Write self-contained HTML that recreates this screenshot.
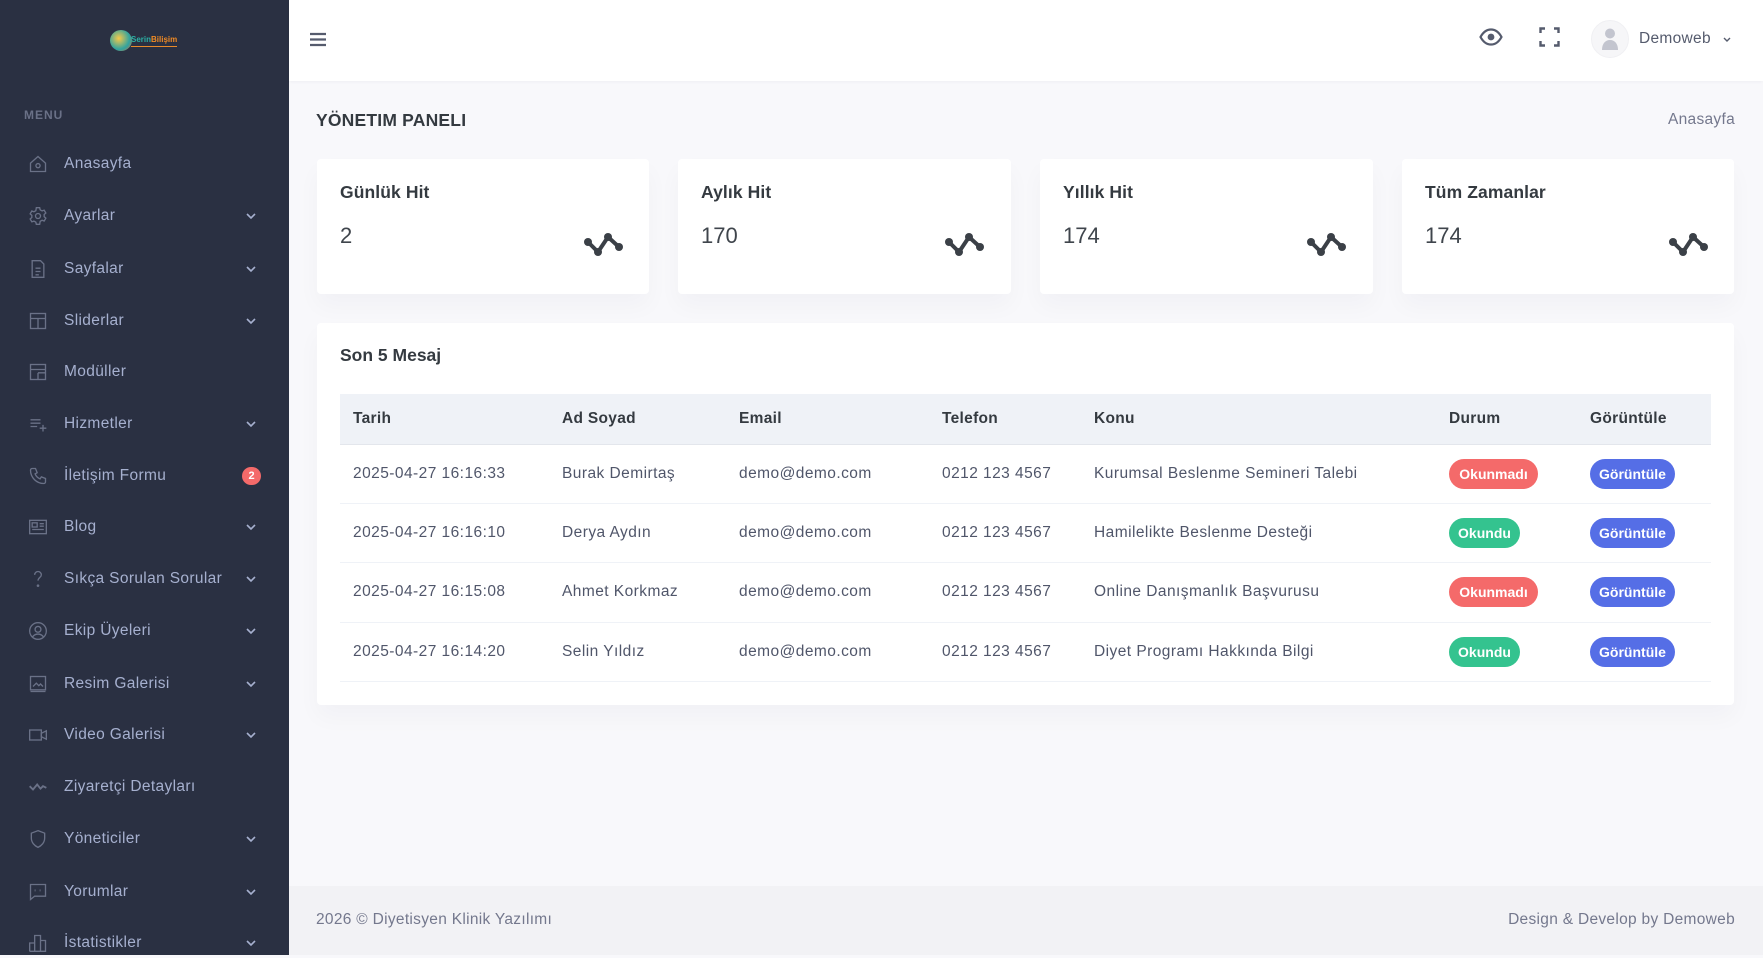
<!DOCTYPE html>
<html><head><meta charset="utf-8">
<style>
*{box-sizing:border-box;margin:0;padding:0}
html,body{width:1763px;height:955px;overflow:hidden;background:#f8f8fb;font-family:"Liberation Sans",Arial,sans-serif;color:#495057}
.sb{position:absolute;left:0;top:0;width:289px;height:955px;background:#2a3042}
.menu-t{position:absolute;left:24px;top:108px;font-size:12px;font-weight:700;color:#6a7187;letter-spacing:1px}
.mi{position:absolute;left:0;width:289px;height:30px;line-height:30px;font-size:15.5px;color:#a6b0cf;letter-spacing:.35px}
.mi svg.ic{position:absolute;left:28px;top:5px;width:20px;height:20px}
.mi span{position:absolute;left:64px;top:0}
.mi svg.ch{position:absolute;left:246px;top:12px;width:10px;height:7px}
.badge2{position:absolute;left:242px;top:6px;width:19px;height:18px;border-radius:9px;background:#f46a6a;color:#fff;font-size:11px;font-weight:700;line-height:18px;text-align:center;letter-spacing:0}
.hdr{position:absolute;left:289px;top:0;width:1474px;height:81px;background:#fff;box-shadow:0 1px 3px rgba(18,38,63,.04)}
.title{position:absolute;left:316px;top:110px;font-size:17.5px;font-weight:700;color:#343a40;letter-spacing:.2px}
.bc{position:absolute;right:28px;top:111px;font-size:15.5px;color:#74788d;letter-spacing:.3px}
.card{position:absolute;background:#fff;border-radius:4px;box-shadow:0 12px 24px rgba(18,38,63,.03)}
.ct{position:absolute;left:23px;top:23px;font-size:17.5px;font-weight:700;color:#343a40;letter-spacing:.1px}
.cv{position:absolute;left:23px;top:64px;font-size:22px;color:#3f454c}
.cicon{position:absolute;left:266px;top:74px;width:42px;height:24px}
.mt{position:absolute;left:23px;top:22px;font-size:17.5px;font-weight:700;color:#343a40}
table{position:absolute;left:23px;top:71px;width:1371px;border-collapse:collapse;table-layout:fixed;font-size:15.5px;letter-spacing:.45px}
th{background:#eff2f7;height:50.5px;text-align:left;padding-left:13px;font-weight:700;color:#343a40;border-bottom:1px solid #e3e6ec;letter-spacing:.3px}
td{height:59.4px;padding-left:13px;color:#50566a;border-bottom:1px solid #eff2f7;white-space:nowrap}
.pill{display:inline-block;height:30px;line-height:30px;border-radius:15px;color:#fff;font-size:14px;font-weight:700;text-align:center;letter-spacing:0}
.r{background:#f46a6a;width:89px}
.g{background:#34c38f;width:71px}
.b{background:#556ee6;width:85px}
.ftr{position:absolute;left:289px;top:886px;width:1474px;height:69px;background:#f2f2f5;font-size:15.5px;color:#74788d;letter-spacing:.3px}
</style></head><body>

<div class="sb">
  <div style="position:absolute;left:110px;top:30px;width:22px;height:21px;border-radius:50%;background:radial-gradient(circle at 40% 40%,#f7c948,#2fa3a0 60%,#e36b2c)"></div>
  <div style="position:absolute;left:131px;top:35px;font-size:8px;font-weight:700;letter-spacing:0"><span style="color:#2ab0a4">Serin</span><span style="color:#f08a24">Bilişim</span></div>
  <div style="position:absolute;left:131px;top:46px;width:46px;height:1px;background:#e88a2a"></div>
  <div class="menu-t">MENU</div>

  <div class="mi" style="top:149px"><svg class="ic" viewBox="0 0 24 24" fill="none" stroke="#6a7187" stroke-width="1.6"><path d="M3 11L12 3l9 8v10H3z"/><circle cx="12" cy="14" r="2.5"/></svg><span>Anasayfa</span></div>
  <div class="mi" style="top:201px"><svg class="ic" viewBox="0 0 24 24" fill="none" stroke="#6a7187" stroke-width="1.6"><circle cx="12" cy="12" r="3"/><path d="M10 2h4l.6 2.6 2.3 1.3 2.5-.9 2 3.4-2 1.8v2.6l2 1.8-2 3.4-2.5-.9-2.3 1.3L14 22h-4l-.6-2.6-2.3-1.3-2.5.9-2-3.4 2-1.8v-2.6l-2-1.8 2-3.4 2.5.9 2.3-1.3z"/></svg><span>Ayarlar</span><svg class="ch" viewBox="0 0 10 7"><path d="M1 1l4 4 4-4" fill="none" stroke="#a6b0cf" stroke-width="1.6"/></svg></div>
  <div class="mi" style="top:253.5px"><svg class="ic" viewBox="0 0 24 24" fill="none" stroke="#6a7187" stroke-width="1.6"><path d="M5 2h10l4 4v16H5z"/><path d="M9 11h6M9 15h6M9 19h4"/></svg><span>Sayfalar</span><svg class="ch" viewBox="0 0 10 7"><path d="M1 1l4 4 4-4" fill="none" stroke="#a6b0cf" stroke-width="1.6"/></svg></div>
  <div class="mi" style="top:305.5px"><svg class="ic" viewBox="0 0 24 24" fill="none" stroke="#6a7187" stroke-width="1.6"><rect x="3" y="3" width="18" height="18"/><path d="M3 9h18M12 9v12"/></svg><span>Sliderlar</span><svg class="ch" viewBox="0 0 10 7"><path d="M1 1l4 4 4-4" fill="none" stroke="#a6b0cf" stroke-width="1.6"/></svg></div>
  <div class="mi" style="top:357px"><svg class="ic" viewBox="0 0 24 24" fill="none" stroke="#6a7187" stroke-width="1.6"><rect x="3" y="3" width="18" height="18"/><path d="M3 9h18M12 13v8M12 13h9"/></svg><span>Modüller</span></div>
  <div class="mi" style="top:409px"><svg class="ic" viewBox="0 0 24 24" fill="none" stroke="#6a7187" stroke-width="1.6"><path d="M3 7h12M3 11h12M3 15h8M18 13v8M14 17h8"/></svg><span>Hizmetler</span><svg class="ch" viewBox="0 0 10 7"><path d="M1 1l4 4 4-4" fill="none" stroke="#a6b0cf" stroke-width="1.6"/></svg></div>
  <div class="mi" style="top:460.5px"><svg class="ic" viewBox="0 0 24 24" fill="none" stroke="#6a7187" stroke-width="1.6"><path d="M5 3h4l2 5-2.5 1.5a11 11 0 006 6L16 13l5 2v4a2 2 0 01-2 2A16 16 0 013 5a2 2 0 012-2z"/></svg><span>İletişim Formu</span><div class="badge2">2</div></div>
  <div class="mi" style="top:512px"><svg class="ic" viewBox="0 0 24 24" fill="none" stroke="#6a7187" stroke-width="1.6"><rect x="2" y="4" width="20" height="16"/><rect x="5" y="7" width="6" height="5"/><path d="M14 8h5M14 11h5M5 15h14"/></svg><span>Blog</span><svg class="ch" viewBox="0 0 10 7"><path d="M1 1l4 4 4-4" fill="none" stroke="#a6b0cf" stroke-width="1.6"/></svg></div>
  <div class="mi" style="top:564px"><svg class="ic" viewBox="0 0 24 24" fill="none" stroke="#6a7187" stroke-width="1.6"><path d="M8 7a4 4 0 118 0c0 3-4 3.5-4 7"/><circle cx="12" cy="20" r=".8"/></svg><span>Sıkça Sorulan Sorular</span><svg class="ch" viewBox="0 0 10 7"><path d="M1 1l4 4 4-4" fill="none" stroke="#a6b0cf" stroke-width="1.6"/></svg></div>
  <div class="mi" style="top:616px"><svg class="ic" viewBox="0 0 24 24" fill="none" stroke="#6a7187" stroke-width="1.6"><circle cx="12" cy="12" r="10"/><circle cx="12" cy="10" r="3.5"/><path d="M5.5 19a8 8 0 0113 0"/></svg><span>Ekip Üyeleri</span><svg class="ch" viewBox="0 0 10 7"><path d="M1 1l4 4 4-4" fill="none" stroke="#a6b0cf" stroke-width="1.6"/></svg></div>
  <div class="mi" style="top:668.5px"><svg class="ic" viewBox="0 0 24 24" fill="none" stroke="#6a7187" stroke-width="1.6"><rect x="3" y="3" width="18" height="16"/><path d="M3 21h18M6 15l4-4 3 3 2-2 3 3"/></svg><span>Resim Galerisi</span><svg class="ch" viewBox="0 0 10 7"><path d="M1 1l4 4 4-4" fill="none" stroke="#a6b0cf" stroke-width="1.6"/></svg></div>
  <div class="mi" style="top:720px"><svg class="ic" viewBox="0 0 24 24" fill="none" stroke="#6a7187" stroke-width="1.6"><rect x="2" y="6" width="14" height="12"/><path d="M16 10l6-3v10l-6-3z"/></svg><span>Video Galerisi</span><svg class="ch" viewBox="0 0 10 7"><path d="M1 1l4 4 4-4" fill="none" stroke="#a6b0cf" stroke-width="1.6"/></svg></div>
  <div class="mi" style="top:772px"><svg class="ic" viewBox="0 0 24 24" fill="none" stroke="#6a7187" stroke-width="2.2"><path d="M2 11l4 4 5-6 4 5 3-3 4 2"/></svg><span>Ziyaretçi Detayları</span></div>
  <div class="mi" style="top:823.5px"><svg class="ic" viewBox="0 0 24 24" fill="none" stroke="#6a7187" stroke-width="1.6"><path d="M12 2l8 3v6c0 5-3.5 9-8 11-4.5-2-8-6-8-11V5z"/></svg><span>Yöneticiler</span><svg class="ch" viewBox="0 0 10 7"><path d="M1 1l4 4 4-4" fill="none" stroke="#a6b0cf" stroke-width="1.6"/></svg></div>
  <div class="mi" style="top:876.5px"><svg class="ic" viewBox="0 0 24 24" fill="none" stroke="#6a7187" stroke-width="1.6"><path d="M3 3h18v14H8l-5 4z"/><path d="M8 10h1M14 10h1" stroke-width="2.4"/></svg><span>Yorumlar</span><svg class="ch" viewBox="0 0 10 7"><path d="M1 1l4 4 4-4" fill="none" stroke="#a6b0cf" stroke-width="1.6"/></svg></div>
  <div class="mi" style="top:928px"><svg class="ic" viewBox="0 0 24 24" fill="none" stroke="#6a7187" stroke-width="1.6"><path d="M2 22V12h6v10M8 22V3h7v19M15 22V9h6v13H2"/></svg><span>İstatistikler</span><svg class="ch" viewBox="0 0 10 7"><path d="M1 1l4 4 4-4" fill="none" stroke="#a6b0cf" stroke-width="1.6"/></svg></div>
</div>

<div class="hdr">
  <svg style="position:absolute;left:20px;top:32px" width="18" height="15" viewBox="0 0 18 15"><path d="M1 2h16M1 7.5h16M1 13h16" stroke="#555b6d" stroke-width="2.2"/></svg>
  <svg style="position:absolute;left:1190px;top:28px" width="24" height="18" viewBox="0 0 24 18"><path d="M1.5 9C4.5 3.5 8 1.5 12 1.5S19.5 3.5 22.5 9C19.5 14.5 16 16.5 12 16.5S4.5 14.5 1.5 9z" fill="none" stroke="#555b6d" stroke-width="2.2"/><circle cx="12" cy="9" r="3.4" fill="#555b6d"/></svg>
  <svg style="position:absolute;left:1250px;top:27px" width="21" height="20" viewBox="0 0 21 20"><path d="M1.5 6V1.5H6M15 1.5h4.5V6M19.5 14v4.5H15M6 18.5H1.5V14" fill="none" stroke="#555b6d" stroke-width="2.4"/></svg>
  <div style="position:absolute;left:1302px;top:20px;width:38px;height:38px;border-radius:50%;background:#f6f6f8;border:1px solid #f0f0f3"></div>
  <svg style="position:absolute;left:1311px;top:27px" width="20" height="24" viewBox="0 0 20 24"><circle cx="10" cy="6.5" r="5" fill="#c3c5cf"/><path d="M2 23c0-6 3-10 8-10s8 4 8 10z" fill="#c3c5cf"/></svg>
  <div style="position:absolute;left:1350px;top:30px;font-size:15.5px;color:#555b6d;letter-spacing:.3px">Demoweb</div>
  <svg style="position:absolute;left:1434px;top:37px" width="8" height="6" viewBox="0 0 8 6"><path d="M1 1l3 3 3-3" fill="none" stroke="#555b6d" stroke-width="1.4"/></svg>
</div>

<div class="title">YÖNETIM PANELI</div>
<div class="bc">Anasayfa</div>

<div class="card" style="left:317px;top:158.5px;width:332px;height:135px">
  <div class="ct">Günlük Hit</div><div class="cv">2</div>
  <svg class="cicon" viewBox="0 0 42 24"><polyline points="5,9 15,19 25,4 36,14" fill="none" stroke="#3b4047" stroke-width="4" stroke-linejoin="round"/><g fill="#3b4047"><circle cx="5" cy="9" r="4"/><circle cx="15" cy="19" r="4"/><circle cx="25" cy="4" r="4"/><circle cx="36" cy="14" r="4"/></g></svg>
</div>
<div class="card" style="left:678px;top:158.5px;width:333px;height:135px">
  <div class="ct">Aylık Hit</div><div class="cv">170</div>
  <svg class="cicon" viewBox="0 0 42 24"><polyline points="5,9 15,19 25,4 36,14" fill="none" stroke="#3b4047" stroke-width="4" stroke-linejoin="round"/><g fill="#3b4047"><circle cx="5" cy="9" r="4"/><circle cx="15" cy="19" r="4"/><circle cx="25" cy="4" r="4"/><circle cx="36" cy="14" r="4"/></g></svg>
</div>
<div class="card" style="left:1040px;top:158.5px;width:333px;height:135px">
  <div class="ct">Yıllık Hit</div><div class="cv">174</div>
  <svg class="cicon" viewBox="0 0 42 24"><polyline points="5,9 15,19 25,4 36,14" fill="none" stroke="#3b4047" stroke-width="4" stroke-linejoin="round"/><g fill="#3b4047"><circle cx="5" cy="9" r="4"/><circle cx="15" cy="19" r="4"/><circle cx="25" cy="4" r="4"/><circle cx="36" cy="14" r="4"/></g></svg>
</div>
<div class="card" style="left:1402px;top:158.5px;width:332px;height:135px">
  <div class="ct">Tüm Zamanlar</div><div class="cv">174</div>
  <svg class="cicon" viewBox="0 0 42 24"><polyline points="5,9 15,19 25,4 36,14" fill="none" stroke="#3b4047" stroke-width="4" stroke-linejoin="round"/><g fill="#3b4047"><circle cx="5" cy="9" r="4"/><circle cx="15" cy="19" r="4"/><circle cx="25" cy="4" r="4"/><circle cx="36" cy="14" r="4"/></g></svg>
</div>

<div class="card" style="left:317px;top:322.5px;width:1417px;height:382.5px">
  <div class="mt">Son 5 Mesaj</div>
  <table>
    <colgroup><col style="width:209px"><col style="width:177px"><col style="width:203px"><col style="width:152px"><col style="width:355px"><col style="width:141px"><col style="width:134px"></colgroup>
    <tr><th>Tarih</th><th>Ad Soyad</th><th>Email</th><th>Telefon</th><th>Konu</th><th>Durum</th><th>Görüntüle</th></tr>
    <tr><td>2025-04-27 16:16:33</td><td>Burak Demirtaş</td><td>demo@demo.com</td><td>0212 123 4567</td><td>Kurumsal Beslenme Semineri Talebi</td><td><span class="pill r">Okunmadı</span></td><td><span class="pill b">Görüntüle</span></td></tr>
    <tr><td>2025-04-27 16:16:10</td><td>Derya Aydın</td><td>demo@demo.com</td><td>0212 123 4567</td><td>Hamilelikte Beslenme Desteği</td><td><span class="pill g">Okundu</span></td><td><span class="pill b">Görüntüle</span></td></tr>
    <tr><td>2025-04-27 16:15:08</td><td>Ahmet Korkmaz</td><td>demo@demo.com</td><td>0212 123 4567</td><td>Online Danışmanlık Başvurusu</td><td><span class="pill r">Okunmadı</span></td><td><span class="pill b">Görüntüle</span></td></tr>
    <tr><td>2025-04-27 16:14:20</td><td>Selin Yıldız</td><td>demo@demo.com</td><td>0212 123 4567</td><td>Diyet Programı Hakkında Bilgi</td><td><span class="pill g">Okundu</span></td><td><span class="pill b">Görüntüle</span></td></tr>
  </table>
</div>

<div class="ftr">
  <div style="position:absolute;left:27px;top:25px">2026 © Diyetisyen Klinik Yazılımı</div>
  <div style="position:absolute;right:28px;top:25px">Design &amp; Develop by Demoweb</div>
</div>
</body></html>
